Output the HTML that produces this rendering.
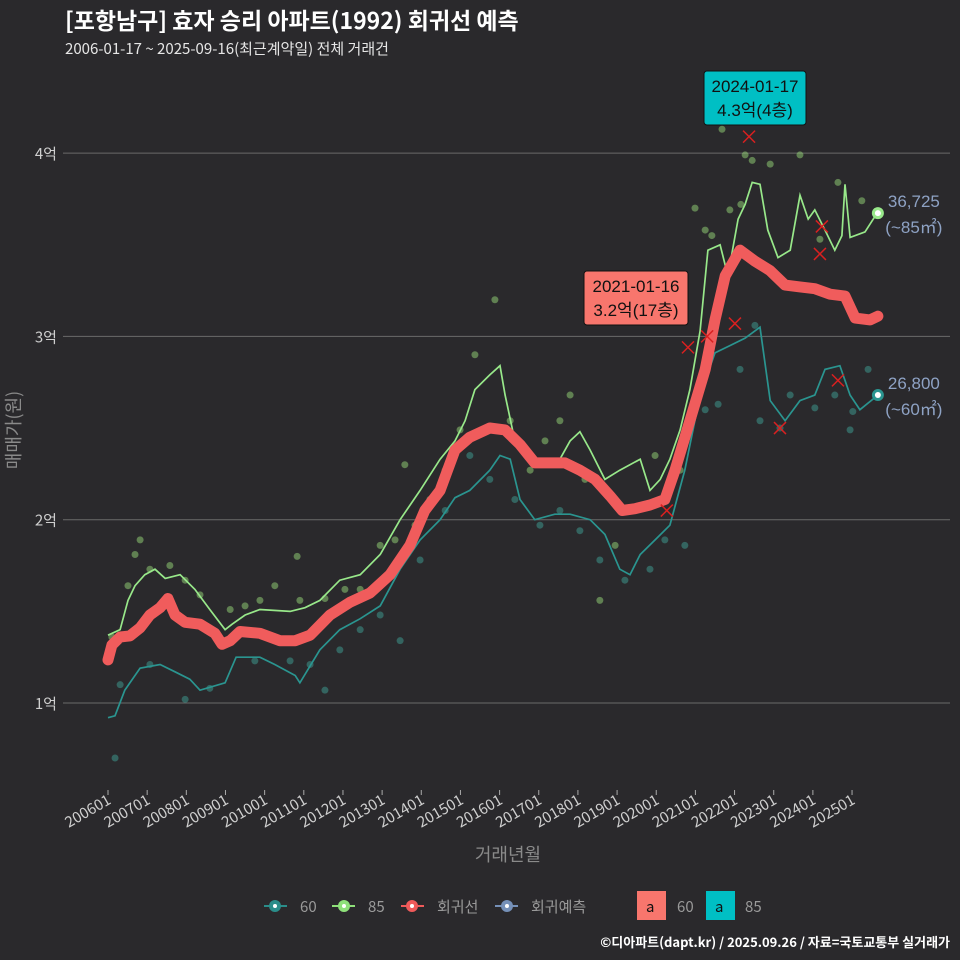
<!DOCTYPE html>
<html><head><meta charset="utf-8">
<style>
html,body{margin:0;padding:0;background:#2a292c;}
svg{display:block;font-family:"Noto Sans CJK KR","Liberation Sans",sans-serif;}
.lib{font-family:"Liberation Sans","Noto Sans CJK KR",sans-serif;}
</style></head>
<body>
<svg id="chart" width="960" height="960" viewBox="0 0 960 960">
<rect x="0" y="0" width="960" height="960" fill="#2a292c"/>
<text x="65" y="29" fill="#ffffff" font-size="23" font-weight="bold">[포항남구] 효자 승리 아파트(1992) 회귀선 예측</text>
<text x="65" y="54" fill="#e6e6e6" font-size="15">2006-01-17 ~ 2025-09-16(최근계약일) 전체 거래건</text>
<g id="grid"></g>
<g id="marks"></g>
<text transform="translate(20,430) rotate(-90)" text-anchor="middle" fill="#8a8a8a" font-size="18">매매가(원)</text>
<text x="508" y="861" text-anchor="middle" fill="#8a8a8a" font-size="18">거래년월</text>
<g font-size="15" fill="#9a9a9a">
  <g><line x1="264" y1="906" x2="287" y2="906" stroke="#2a8d8a" stroke-width="2"/><circle cx="275" cy="906" r="6" fill="#2a8d8a"/><circle cx="275" cy="906" r="2" fill="#fff"/><text x="300" y="912">60</text></g>
  <g><line x1="332" y1="906" x2="355" y2="906" stroke="#8ee07a" stroke-width="2"/><circle cx="344" cy="906" r="6" fill="#8ee07a"/><circle cx="344" cy="906" r="2" fill="#fff"/><text x="368" y="912">85</text></g>
  <g><line x1="401" y1="906" x2="424" y2="906" stroke="#f05a5a" stroke-width="2"/><circle cx="412" cy="906" r="6" fill="#f05a5a"/><circle cx="412" cy="906" r="2" fill="#fff"/><text x="437" y="912">회귀선</text></g>
  <g><line x1="495" y1="906" x2="518" y2="906" stroke="#7590b8" stroke-width="2"/><circle cx="507" cy="906" r="6" fill="#7590b8"/><circle cx="507" cy="906" r="2" fill="#fff"/><text x="531" y="912">회귀예측</text></g>
  <g><rect x="637" y="891" width="29" height="29" fill="#f8766d"/><text x="646" y="912" fill="#111">a</text><text x="677" y="912">60</text></g>
  <g><rect x="706" y="891" width="29" height="29" fill="#00bfc4"/><text x="715" y="912" fill="#111">a</text><text x="745" y="912">85</text></g>
</g>
<text x="950" y="947" text-anchor="end" fill="#ffffff" font-size="13" font-weight="bold">©디아파트(dapt.kr) / 2025.09.26 / 자료=국토교통부 실거래가</text>
</svg>
<script>
const yTicks=[1,2,3,4];
const yTickLabels=["1억","2억","3억","4억"];
const xTicks=[2006,2007,2008,2009,2010,2011,2012,2013,2014,2015,2016,2017,2018,2019,2020,2021,2022,2023,2024,2025];
const xTickLabels=["200601","200701","200801","200901","201001","201101","201201","201301","201401","201501","201601","201701","201801","201901","202001","202101","202201","202301","202401","202501"];
const regT=[2006.00,2006.10,2006.31,2006.56,2006.82,2007.07,2007.33,2007.53,2007.71,2007.97,2008.35,2008.73,2008.91,2009.12,2009.37,2009.88,2010.39,2010.78,2011.16,2011.67,2012.18,2012.69,2013.20,2013.71,2014.09,2014.48,2014.86,2015.24,2015.75,2016.14,2016.52,2016.90,2017.29,2017.67,2018.05,2018.44,2018.82,2019.13,2019.46,2019.84,2020.22,2020.48,2020.86,2021.25,2021.50,2021.76,2022.14,2022.52,2022.90,2023.29,2023.67,2024.05,2024.44,2024.82,2025.08,2025.46,2025.66];
const regV=[1.235,1.316,1.36,1.366,1.41,1.48,1.52,1.57,1.48,1.44,1.43,1.38,1.32,1.34,1.39,1.38,1.34,1.34,1.37,1.48,1.55,1.60,1.70,1.86,2.05,2.16,2.38,2.45,2.50,2.49,2.41,2.31,2.31,2.31,2.27,2.22,2.13,2.05,2.06,2.08,2.11,2.27,2.54,2.82,3.09,3.33,3.47,3.41,3.36,3.28,3.27,3.26,3.23,3.22,3.10,3.09,3.11];
const l85T=[2006.00,2006.31,2006.51,2006.69,2006.94,2007.20,2007.46,2007.84,2008.22,2008.60,2008.99,2009.17,2009.50,2009.88,2010.65,2011.03,2011.41,2011.92,2012.44,2012.95,2013.46,2013.97,2014.48,2014.86,2015.12,2015.37,2015.75,2016.01,2016.14,2016.39,2016.78,2017.16,2017.54,2017.80,2018.05,2018.31,2018.69,2019.07,2019.59,2019.84,2020.10,2020.35,2020.61,2020.86,2021.12,2021.32,2021.63,2021.83,2022.09,2022.27,2022.45,2022.65,2022.85,2023.11,2023.42,2023.67,2023.88,2024.05,2024.31,2024.56,2024.74,2024.82,2024.95,2025.33,2025.66];
const l85V=[1.37,1.40,1.56,1.64,1.70,1.73,1.68,1.70,1.62,1.51,1.40,1.43,1.48,1.51,1.50,1.52,1.56,1.67,1.70,1.81,2.00,2.16,2.33,2.43,2.54,2.71,2.79,2.84,2.68,2.43,2.33,2.30,2.33,2.43,2.48,2.38,2.22,2.27,2.33,2.16,2.22,2.33,2.49,2.71,3.03,3.47,3.50,3.33,3.64,3.72,3.84,3.83,3.58,3.43,3.47,3.77,3.64,3.69,3.58,3.47,3.55,3.83,3.54,3.57,3.68];
const l60T=[2006.00,2006.18,2006.43,2006.82,2007.33,2007.71,2008.09,2008.35,2008.99,2009.27,2009.88,2010.26,2010.78,2010.90,2011.41,2011.92,2012.44,2012.95,2013.46,2013.97,2014.48,2014.86,2015.24,2015.75,2016.01,2016.27,2016.52,2016.90,2017.41,2017.80,2018.31,2018.69,2019.07,2019.33,2019.59,2019.97,2020.35,2020.73,2021.12,2021.50,2021.88,2022.27,2022.65,2022.91,2023.29,2023.67,2024.05,2024.31,2024.69,2024.95,2025.20,2025.66];
const l60V=[0.92,0.93,1.07,1.19,1.21,1.17,1.13,1.07,1.11,1.25,1.25,1.21,1.15,1.11,1.29,1.40,1.46,1.53,1.73,1.89,2.00,2.12,2.16,2.27,2.35,2.33,2.11,2.00,2.03,2.03,2.00,1.92,1.73,1.70,1.81,1.89,1.97,2.27,2.68,2.91,2.95,2.99,3.05,2.65,2.54,2.65,2.68,2.82,2.84,2.68,2.60,2.68];
const d85T=[2006.10,2006.51,2006.82,2006.69,2007.07,2007.58,2007.97,2008.35,2009.12,2009.50,2009.88,2010.26,2010.83,2010.90,2011.54,2012.05,2012.44,2012.95,2013.33,2013.58,2013.84,2014.22,2014.61,2014.99,2015.37,2015.88,2016.27,2016.78,2017.16,2017.54,2017.80,2018.18,2018.56,2018.95,2019.46,2019.97,2020.61,2020.99,2021.25,2021.68,2022.16,2022.45,2022.57,2022.91,2023.67,2024.18,2024.64,2025.25,2022.27,2021.42,2021.88];
const d85V=[1.36,1.64,1.89,1.81,1.73,1.75,1.67,1.59,1.51,1.53,1.56,1.64,1.80,1.56,1.57,1.62,1.62,1.86,1.89,2.30,1.97,2.11,2.27,2.49,2.90,3.20,2.54,2.27,2.43,2.54,2.68,2.22,1.56,1.86,2.05,2.35,2.27,3.70,3.58,4.13,3.72,3.96,4.31,3.94,3.99,3.53,3.84,3.74,3.99,3.55,3.69];
const d60T=[2006.18,2006.31,2007.07,2007.97,2008.60,2009.75,2010.65,2011.16,2011.54,2011.92,2012.44,2012.95,2013.46,2013.97,2014.61,2015.24,2015.75,2016.39,2017.03,2017.54,2018.05,2018.56,2019.20,2019.84,2020.22,2020.73,2021.25,2021.58,2022.14,2022.52,2023.42,2024.05,2024.56,2024.95,2025.41,2022.65,2023.16,2025.02];
const d60V=[0.70,1.10,1.21,1.02,1.08,1.23,1.23,1.21,1.07,1.29,1.40,1.48,1.34,1.78,2.05,2.35,2.22,2.11,1.97,2.05,1.94,1.78,1.67,1.73,1.89,1.86,2.60,2.63,2.82,3.06,2.68,2.61,2.68,2.49,2.82,2.54,2.50,2.59];
const xmT=[2020.81,2021.30,2022.01,2022.37,2023.16,2024.23,2024.18,2024.64,2020.27];
const xmV=[2.94,3.00,3.07,4.09,2.50,3.60,3.45,2.76,2.05];
const end85=[2025.66,3.6725], end60=[2025.66,2.68];
const endLabels=["36,725","(~85㎡)","26,800","(~60㎡)"];
const ann1=["2024-01-17","4.3억(4층)"], ann2=["2021-01-16","3.2억(17층)"];

const NS="http://www.w3.org/2000/svg";
const X=t=>108+(t-2006)*39.16;
const Y=v=>703-(v-1)*183.3;
function mk(tag,attrs,parent){const e=document.createElementNS(NS,tag);for(const k in attrs)e.setAttribute(k,attrs[k]);parent.appendChild(e);return e;}
const grid=document.getElementById('grid'), marks=document.getElementById('marks');
yTicks.forEach((v,i)=>{
  const l=mk('line',{x1:63,x2:950,y1:Y(v),y2:Y(v),stroke:'#6a6a6a','stroke-width':1},grid);
  
  
  const t=mk('text',{x:57,y:Y(v)+6,'text-anchor':'end',fill:'#cfcfcf','font-size':15},grid);
  t.textContent=yTickLabels[i];
  
  
});
xTicks.forEach((v,i)=>{
  const x=X(v);
  const l=mk('line',{x1:x,x2:x,y1:790,y2:795,stroke:'#aaa'},grid);
  
  
  const t=mk('text',{transform:`translate(${x+4},803) rotate(-30)`,'text-anchor':'end',fill:'#cfcfcf','font-size':15},grid);
  t.textContent=xTickLabels[i];
  
  
});
d85T.forEach((t,i)=>{
  const c=mk('circle',{cx:X(t),cy:Y(d85V[i]),r:3.5,fill:'rgba(150,215,120,0.5)'},marks);
  
  
});
d60T.forEach((t,i)=>{
  const c=mk('circle',{cx:X(t),cy:Y(d60V[i]),r:3.5,fill:'rgba(60,150,140,0.55)'},marks);
  
  
});
function path(T,V){return T.map((t,i)=>(i?'L':'M')+X(t).toFixed(1)+','+Y(V[i]).toFixed(1)).join(' ');}
const p60=mk('path',{d:path(l60T,l60V),fill:'none',stroke:'#2a9590','stroke-width':1.7},marks);


const p85=mk('path',{d:path(l85T,l85V),fill:'none',stroke:'#98e88a','stroke-width':1.7},marks);


const preg=mk('path',{d:path(regT,regV),fill:'none',stroke:'#f05c5c','stroke-width':11,'stroke-linejoin':'round','stroke-linecap':'round'},marks);


xmT.forEach((t,i)=>{
  const x=X(t),y=Y(xmV[i]);
  const g=mk('path',{d:`M${x-6},${y-6}L${x+6},${y+6}M${x-6},${y+6}L${x+6},${y-6}`,stroke:'#d92020','stroke-width':1.5},marks);
  
  
});
[[end85,'#98e88a',0],[end60,'#2a9590',2]].forEach(([p,col,k])=>{
  const x=X(p[0]),y=Y(p[1]);
  const c=mk('circle',{cx:x,cy:y,r:6,fill:col},marks);
  
  
  const c2=mk('circle',{cx:x,cy:y,r:3,fill:'#fff'},marks);
  
  
  const t1=mk('text',{x:x+36,y:y-6,'text-anchor':'middle',fill:'#8ea2c4','font-size':17,'class':'lib'},marks);
  t1.textContent=endLabels[k];
  
  
  const t2=mk('text',{x:x+36,y:y+20,'text-anchor':'middle',fill:'#8ea2c4','font-size':17,'class':'lib'},marks);
  t2.textContent=endLabels[k+1];
  
  
});
function ann(x,y,w,h,col,lines,name){
  const g=mk('g',{'class':'lib'},marks);
  
  
  mk('rect',{x:x,y:y,width:w,height:h,rx:3,fill:col,stroke:'#111','stroke-width':1},g);
  lines.forEach((s,i)=>{const t=mk('text',{x:x+w/2,y:y+21+i*24,'text-anchor':'middle',fill:'#111','font-size':17},g);t.textContent=s;});
}
ann(704,71,102,54,'#00bfc4',ann1,'annotation-max');
ann(584,271,104,54,'#f8766d',ann2,'annotation-regression');
</script>
</body></html>
